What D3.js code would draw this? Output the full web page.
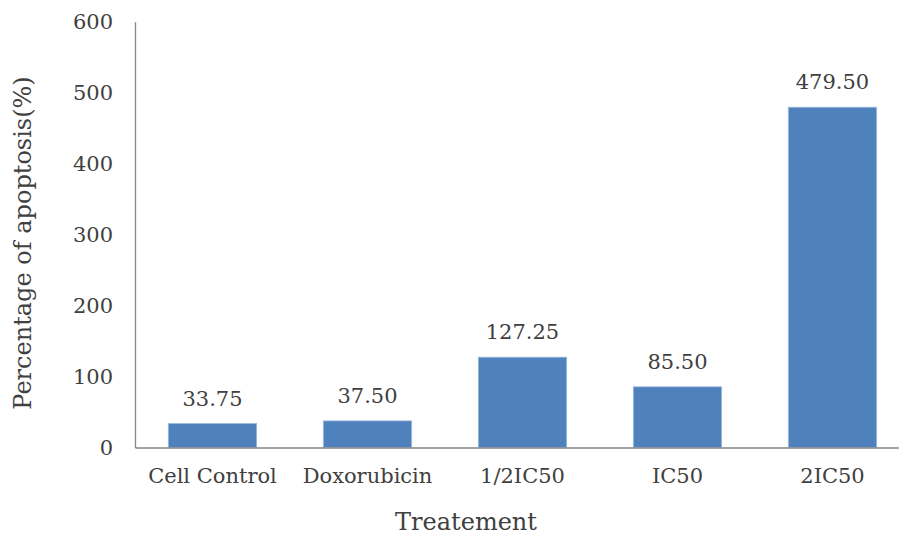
<!DOCTYPE html>
<html>
<head>
<meta charset="utf-8">
<script src="https://cdn.jsdelivr.net/npm/d3@7"></script>
<style>
  html, body { margin: 0; padding: 0; background: #fff; }
  svg text { font-family: "DejaVu Serif", "Liberation Serif", serif; fill: #404040; }
</style>
</head>
<body>
<svg id="chart" width="899" height="535"></svg>
<script>
const categories = ["Cell Control", "Doxorubicin", "1/2IC50", "IC50", "2IC50"];
const apoptosis = [33.75, 37.50, 127.25, 85.50, 479.50];
const yTicks = [0, 100, 200, 300, 400, 500, 600];

const svg = d3.select("#chart");
const plotLeft = 135, plotRight = 910, plotTop = 21.7, plotBottom = 447.5;
const labelSize = 21;

const x = d3.scaleBand().domain(categories).range([plotLeft, plotRight]).paddingInner(0.43).paddingOuter(0.215);
const y = d3.scaleLinear().domain([0, 600]).range([plotBottom, plotTop]);

// bars
svg.append("g").selectAll("rect").data(apoptosis).join("rect")
  .attr("x", (d, i) => x(categories[i]))
  .attr("width", x.bandwidth())
  .attr("y", d => y(d))
  .attr("height", d => y(0) - y(d))
  .attr("fill", "#4F81BD")
  .attr("stroke", "#9DB9DC")
  .attr("stroke-width", 0.8);

// value labels
svg.append("g").selectAll("text").data(apoptosis).join("text")
  .attr("x", (d, i) => x(categories[i]) + x.bandwidth() / 2)
  .attr("y", d => y(d) - 18)
  .attr("text-anchor", "middle")
  .attr("font-size", labelSize)
  .text(d => d.toFixed(2));

// y axis
const yAxis = svg.append("g").attr("transform", `translate(${plotLeft},0)`)
  .call(d3.axisLeft(y).tickValues(yTicks).tickSize(0).tickPadding(22).tickFormat(d3.format("d")));
yAxis.select(".domain").attr("stroke", "#868686").attr("stroke-width", 1.3);
yAxis.selectAll("text").attr("font-size", labelSize).attr("fill", "#404040")
  .style("font-family", "'DejaVu Serif', serif");

// x axis
const xAxis = svg.append("g").attr("transform", `translate(0,${plotBottom})`)
  .call(d3.axisBottom(x).tickSize(0).tickPadding(21));
xAxis.select(".domain").attr("stroke", "#868686").attr("stroke-width", 1.3);
xAxis.selectAll("text").attr("font-size", labelSize).attr("fill", "#404040")
  .style("font-family", "'DejaVu Serif', serif");

// axis titles
svg.append("text")
  .attr("x", 466).attr("y", 530)
  .attr("text-anchor", "middle")
  .attr("font-size", 24)
  .text("Treatement");

svg.append("text")
  .attr("transform", "translate(31,243) rotate(-90)")
  .attr("text-anchor", "middle")
  .attr("font-size", 24)
  .text("Percentage of apoptosis(%)");
</script>
</body>
</html>
